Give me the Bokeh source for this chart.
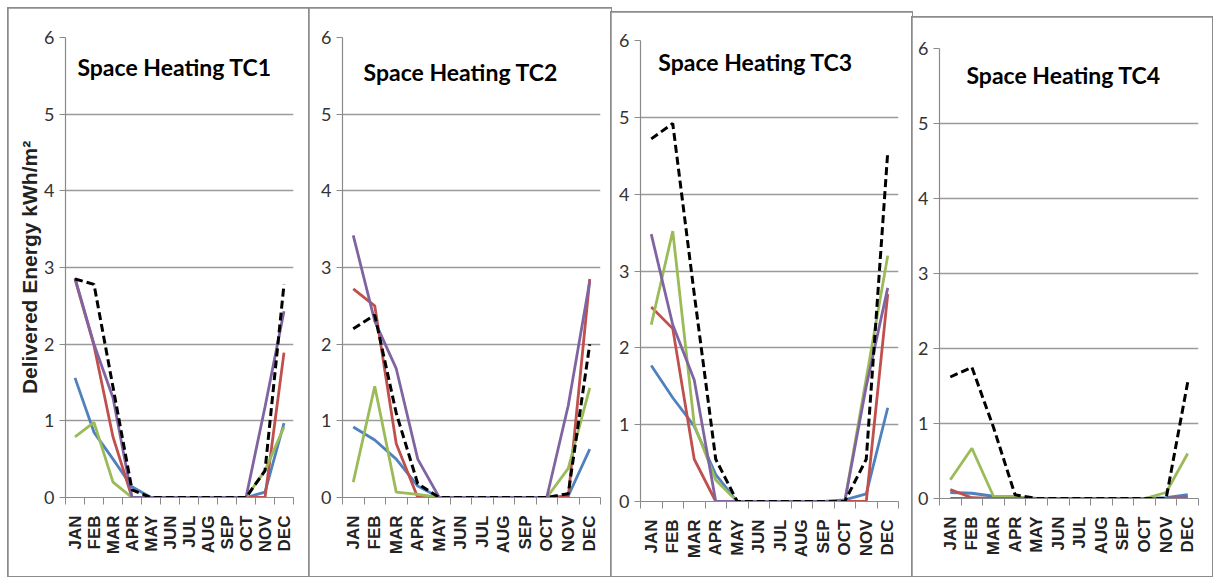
import math
from bokeh.plotting import figure
from bokeh.models import Range1d, FixedTicker, Label, Spacer
from bokeh.layouts import row, column
from bokeh.embed import file_html
from bokeh.resources import INLINE

# ---------------- data ----------------
months = ["JAN", "FEB", "MAR", "APR", "MAY", "JUN", "JUL", "AUG", "SEP", "OCT", "NOV", "DEC"]
month_pos = list(range(1, 13))
y_ticks = [0, 1, 2, 3, 4, 5, 6]
titles = ["Space Heating TC1", "Space Heating TC2", "Space Heating TC3", "Space Heating TC4"]
y_label = "Delivered Energy kWh/m\u00b2"

tc1_blue   = [1.56, 0.85, 0.50, 0.14, 0, 0, 0, 0, 0, 0, 0.07, 0.97]
tc1_red    = [2.85, 1.98, 0.79, 0.00, 0, 0, 0, 0, 0, 0, 0.00, 1.89]
tc1_green  = [0.79, 0.98, 0.20, 0.00, 0, 0, 0, 0, 0, 0, 0.35, 0.92]
tc1_purple = [2.86, 2.00, 1.30, 0.00, 0, 0, 0, 0, 0, 0, 1.18, 2.43]
tc1_black  = [2.85, 2.78, 1.44, 0.10, 0, 0, 0, 0, 0, 0, 0.35, 2.78]

tc2_blue   = [0.92, 0.75, 0.50, 0.15, 0, 0, 0, 0, 0, 0, 0.02, 0.63]
tc2_red    = [2.72, 2.50, 0.70, 0.00, 0, 0, 0, 0, 0, 0, 0.00, 2.85]
tc2_green  = [0.20, 1.45, 0.07, 0.04, 0, 0, 0, 0, 0, 0, 0.38, 1.43]
tc2_purple = [3.42, 2.30, 1.68, 0.50, 0, 0, 0, 0, 0, 0, 1.20, 2.82]
tc2_black  = [2.20, 2.38, 1.10, 0.18, 0, 0, 0, 0, 0, 0, 0.05, 2.00]

tc3_blue   = [1.77, 1.35, 0.98, 0.35, 0, 0, 0, 0, 0, 0.02, 0.10, 1.22]
tc3_red    = [2.53, 2.25, 0.55, 0.00, 0, 0, 0, 0, 0, 0, 0.00, 2.70]
tc3_green  = [2.30, 3.52, 1.00, 0.28, 0, 0, 0, 0, 0, 0, 1.60, 3.20]
tc3_purple = [3.48, 2.30, 1.58, 0.00, 0, 0, 0, 0, 0, 0, 1.50, 2.78]
tc3_black  = [4.72, 4.92, 2.70, 0.55, 0, 0, 0, 0, 0, 0, 0.55, 4.55]

tc4_blue   = [0.08, 0.07, 0.03, 0.02, 0, 0, 0, 0, 0, 0, 0.01, 0.05]
tc4_red    = [0.12, 0.01, 0.00, 0.00, 0, 0, 0, 0, 0, 0, 0.00, 0.02]
tc4_green  = [0.25, 0.67, 0.03, 0.02, 0, 0, 0, 0, 0, 0, 0.08, 0.60]
tc4_purple = [0.00, 0.00, 0.00, 0.00, 0, 0, 0, 0, 0, 0, 0.00, 0.02]
tc4_black  = [1.62, 1.75, 0.95, 0.05, 0, 0, 0, 0, 0, 0, 0.00, 1.55]

panels_data = [
    [tc1_blue, tc1_red, tc1_green, tc1_purple, tc1_black],
    [tc2_blue, tc2_red, tc2_green, tc2_purple, tc2_black],
    [tc3_blue, tc3_red, tc3_green, tc3_purple, tc3_black],
    [tc4_blue, tc4_red, tc4_green, tc4_purple, tc4_black],
]

# ---------------- styling / layout ----------------
series_colors = ["#4F81BD", "#C0504D", "#9BBB59", "#8064A2", "#000000"]
TITLE_FONT = "Lato"
TICK_FONT = "Lato"
GRID = "#9a9a9a"
AXIS = "#8a8a8a"

# width, height, top spacer, min borders (l, r, t, b), title pos (x, y)
layout_cfg = [
    dict(w=301, h=568, sp=0, l=57, r=16, t=29, b=79, tx=6.24, ty=5.62),
    dict(w=302, h=568, sp=0, l=33, r=11, t=29, b=79, tx=6.0, ty=5.55),
    dict(w=301, h=564, sp=4, l=29, r=14, t=28, b=75, tx=5.85, ty=5.72),
    dict(w=300, h=559, sp=9, l=27, r=14, t=31, b=78, tx=6.25, ty=5.65),
]

items = []
for i, (series, cfg) in enumerate(zip(panels_data, layout_cfg)):
    p = figure(width=cfg["w"], height=cfg["h"],
               x_range=Range1d(0.5, 12.5), y_range=Range1d(0, 6),
               output_backend="svg", toolbar_location=None,
               min_border_left=cfg["l"], min_border_right=cfg["r"],
               min_border_top=cfg["t"], min_border_bottom=cfg["b"])
    p.styles = {"outline": "2px solid #8c8c8c", "outline-offset": "-1px"}
    p.outline_line_color = None
    p.background_fill_color = "white"
    p.border_fill_color = "white"

    p.xgrid.visible = False
    p.ygrid.grid_line_color = GRID
    p.ygrid.grid_line_width = 1.5

    p.yaxis.ticker = FixedTicker(ticks=y_ticks)
    p.yaxis.axis_line_color = AXIS
    p.yaxis.axis_line_width = 1.2
    p.yaxis.major_tick_line_color = AXIS
    p.yaxis.major_tick_out = 6
    p.yaxis.major_tick_in = 0
    p.yaxis.minor_tick_line_color = None
    p.yaxis.major_label_text_font = TICK_FONT
    p.yaxis.major_label_text_font_size = "18px"
    p.yaxis.major_label_text_color = "#333333"
    p.yaxis.major_label_standoff = 5

    p.xaxis.ticker = FixedTicker(ticks=month_pos, minor_ticks=[k + 0.5 for k in range(13)])
    p.xaxis.major_label_overrides = {m: lab for m, lab in zip(month_pos, months)}
    p.xaxis.major_label_orientation = math.pi / 2
    p.xaxis.axis_line_color = AXIS
    p.xaxis.axis_line_width = 1.2
    p.xaxis.major_tick_line_color = None
    p.xaxis.major_tick_out = 7
    p.xaxis.major_tick_in = 0
    p.xaxis.minor_tick_line_color = AXIS
    p.xaxis.minor_tick_out = 7
    p.xaxis.minor_tick_in = 0
    p.xaxis.major_label_standoff = 11
    p.xaxis.major_label_text_font = "Liberation Sans"
    p.xaxis.major_label_text_font_style = "bold"
    p.xaxis.major_label_text_font_size = "17px"
    p.xaxis.major_label_text_color = "#222222"

    if i == 0:
        p.yaxis.axis_label = y_label
        p.yaxis.axis_label_text_font = "Liberation Sans"
        p.yaxis.axis_label_text_font_style = "bold"
        p.yaxis.axis_label_text_font_size = "21px"
        p.yaxis.axis_label_text_color = "#222222"
        p.yaxis.axis_label_standoff = 0

    for k, (vals, col) in enumerate(zip(series, series_colors)):
        if k == 4:
            p.line(month_pos, vals, line_color=col, line_width=3, line_dash="8 4")
        else:
            p.line(month_pos, vals, line_color=col, line_width=2.8)

    p.add_layout(Label(x=cfg["tx"], y=cfg["ty"], text=titles[i],
                       text_align="center", text_baseline="alphabetic",
                       text_font=TITLE_FONT, text_font_style="bold",
                       text_font_size="23px", text_color="black"))

    items.append(column(Spacer(width=cfg["w"], height=8 + cfg["sp"]), p))

layout = row(Spacer(width=8, height=10), *items)
open("out.html", "w").write(file_html(layout, INLINE))
